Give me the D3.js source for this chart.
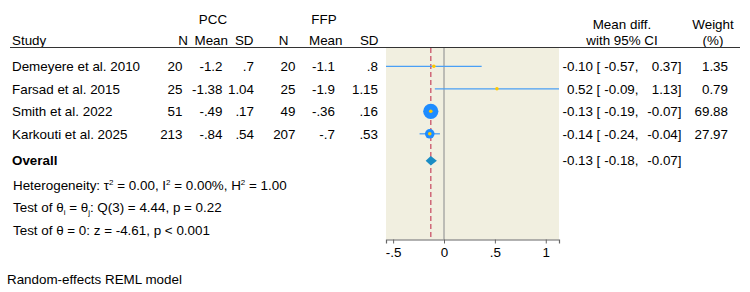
<!DOCTYPE html>
<html><head><meta charset="utf-8">
<script src="https://cdn.jsdelivr.net/npm/d3@7"></script>
<style>
body{margin:0;background:#fff;}
text{font-family:"Liberation Sans",Arial,Helvetica,sans-serif;font-size:13.4px;fill:#000;}
</style></head>
<body>
<svg id="c" width="750" height="292"></svg>
<script>
const studies = ["Demeyere et al. 2010","Farsad et al. 2015","Smith et al. 2022","Karkouti et al. 2025"];
const pccN = ["20","25","51","213"];
const pccMean = ["-1.2","-1.38","-.49","-.84"];
const pccSD = [".7","1.04",".17",".54"];
const ffpN = ["20","25","49","207"];
const ffpMean = ["-1.1","-1.9","-.36","-.7"];
const ffpSD = [".8","1.15",".16",".53"];
const est = [-0.10, 0.52, -0.13, -0.14];
const lower = [-0.57, -0.09, -0.19, -0.24];
const upper = [0.37, 1.13, -0.07, -0.04];
const weight = [1.35, 0.79, 69.88, 27.97];
const overall = {est:-0.13, lower:-0.18, upper:-0.07};
const xTicks = [-0.5, 0, 0.5, 1];
const xTickLabels = ["-.5","0",".5","1"];

const svg = d3.select("#c");
const x = d3.scaleLinear().domain([-0.57, 1.13]).range([386, 559]);
const rowY = d3.scaleLinear().domain([0,1]).range([66.3, 88.8]);
const panelTop = 48, panelBottom = 239.5;

svg.append("rect").attr("x", x.range()[0]).attr("y", panelTop)
  .attr("width", x.range()[1]-x.range()[0]).attr("height", panelBottom-panelTop)
  .attr("fill", "#f1efe0");

const hdr = svg.append("g");
function t(xp, y, s, anchor, extra){ const e = hdr.append("text").attr("x",xp).attr("y",y).attr("text-anchor",anchor||"start").text(s); if(extra) extra(e); return e; }
t(213, 24, "PCC", "middle");
t(324, 24, "FFP", "middle");
t(12, 45, "Study");
t(188, 45, "N", "end");
t(228, 45, "Mean", "end");
t(253.5, 45, "SD", "end");
t(288.5, 45, "N", "end");
t(342.5, 45, "Mean", "end");
t(378.5, 45, "SD", "end");
t(622, 28.5, "Mean diff.", "middle");
t(622, 45, "with 95% CI", "middle");
t(713, 28.5, "Weight", "middle");
t(713, 45, "(%)", "middle");
svg.append("line").attr("x1",10).attr("x2",740).attr("y1",47.5).attr("y2",47.5)
  .attr("stroke","#333").attr("stroke-width",1.2);

svg.append("line").attr("x1",x(0)).attr("x2",x(0)).attr("y1",panelTop).attr("y2",panelBottom)
  .attr("stroke","#999").attr("stroke-width",1.2);
svg.append("line").attr("x1",x(overall.est)).attr("x2",x(overall.est)).attr("y1",panelTop).attr("y2",panelBottom)
  .attr("stroke","#d06878").attr("stroke-width",1.5).attr("stroke-dasharray","5,3");

const f2 = d3.format(".2f");
const fmt = v => f2(v).replace("\u2212","-");
const rmax = 7.6, wmax = d3.max(weight);
studies.forEach((s,i)=>{
  const y = rowY(i);
  const ty = y + 4.7;
  t(12, ty, s);
  t(182.5, ty, pccN[i], "end");
  t(222.5, ty, pccMean[i], "end");
  t(254, ty, pccSD[i], "end");
  t(295.5, ty, ffpN[i], "end");
  t(335, ty, ffpMean[i], "end");
  t(378, ty, ffpSD[i], "end");
  svg.append("line").attr("x1",x(lower[i])).attr("x2",x(upper[i])).attr("y1",y).attr("y2",y)
    .attr("stroke","#4a9ff5").attr("stroke-width",1.3);
  svg.append("circle").attr("cx",x(est[i])).attr("cy",y).attr("r",rmax*Math.sqrt(weight[i]/wmax))
    .attr("fill","#1e8cff");
  svg.append("circle").attr("cx",x(est[i])).attr("cy",y).attr("r",1.8).attr("fill","#ffc800");
  t(593, ty, fmt(est[i]), "end");
  t(596.5, ty, "[");
  t(638.5, ty, fmt(lower[i]) + ",", "end");
  t(681.5, ty, fmt(upper[i]) + "]", "end");
  t(728, ty, fmt(weight[i]), "end");
});

const oy = 160.7;
t(12, oy+4.7, "Overall", "start", e=>e.attr("font-weight","bold"));
const dh = 4.8;
svg.append("path").attr("d", `M${x(overall.lower)},${oy} L${x(overall.est)},${oy-dh} L${x(overall.upper)},${oy} L${x(overall.est)},${oy+dh} Z`)
  .attr("fill","#1a8cc4");
t(593, oy+4.7, fmt(overall.est), "end");
t(596.5, oy+4.7, "[");
t(638.5, oy+4.7, fmt(overall.lower)+",", "end");
t(681.5, oy+4.7, fmt(overall.upper)+"]", "end");

const s1 = hdr.append("text").attr("x",13).attr("y",189.5);
s1.append("tspan").text("Heterogeneity: τ");
s1.append("tspan").attr("font-size","8px").attr("dy",-5).text("2");
s1.append("tspan").attr("dy",5).text(" = 0.00, I");
s1.append("tspan").attr("font-size","8px").attr("dy",-5).text("2");
s1.append("tspan").attr("dy",5).text(" = 0.00%, H");
s1.append("tspan").attr("font-size","8px").attr("dy",-5).text("2");
s1.append("tspan").attr("dy",5).text(" = 1.00");
const s2 = hdr.append("text").attr("x",13).attr("y",212);
s2.append("tspan").text("Test of θ");
s2.append("tspan").attr("font-size","8px").attr("dy",3).text("i");
s2.append("tspan").attr("dy",-3).text(" = θ");
s2.append("tspan").attr("font-size","8px").attr("dy",3).text("j");
s2.append("tspan").attr("dy",-3).text(": Q(3) = 4.44, p = 0.22");
t(13, 234.5, "Test of θ = 0: z = -4.61, p < 0.001");
t(7, 284, "Random-effects REML model");

const ax = svg.append("g").attr("transform",`translate(0,${panelBottom})`)
  .call(d3.axisBottom(x).tickValues(xTicks).tickFormat((d,i)=>xTickLabels[i]).tickSize(4).tickPadding(4));
ax.select(".domain").attr("stroke","#666").attr("stroke-width",1.2);
ax.selectAll(".tick line").attr("stroke","#666");
ax.selectAll(".tick text").attr("font-size","13.4px").attr("fill","#000")
  .style("font-family",'"Liberation Sans",Arial,sans-serif');
</script>
</body></html>
